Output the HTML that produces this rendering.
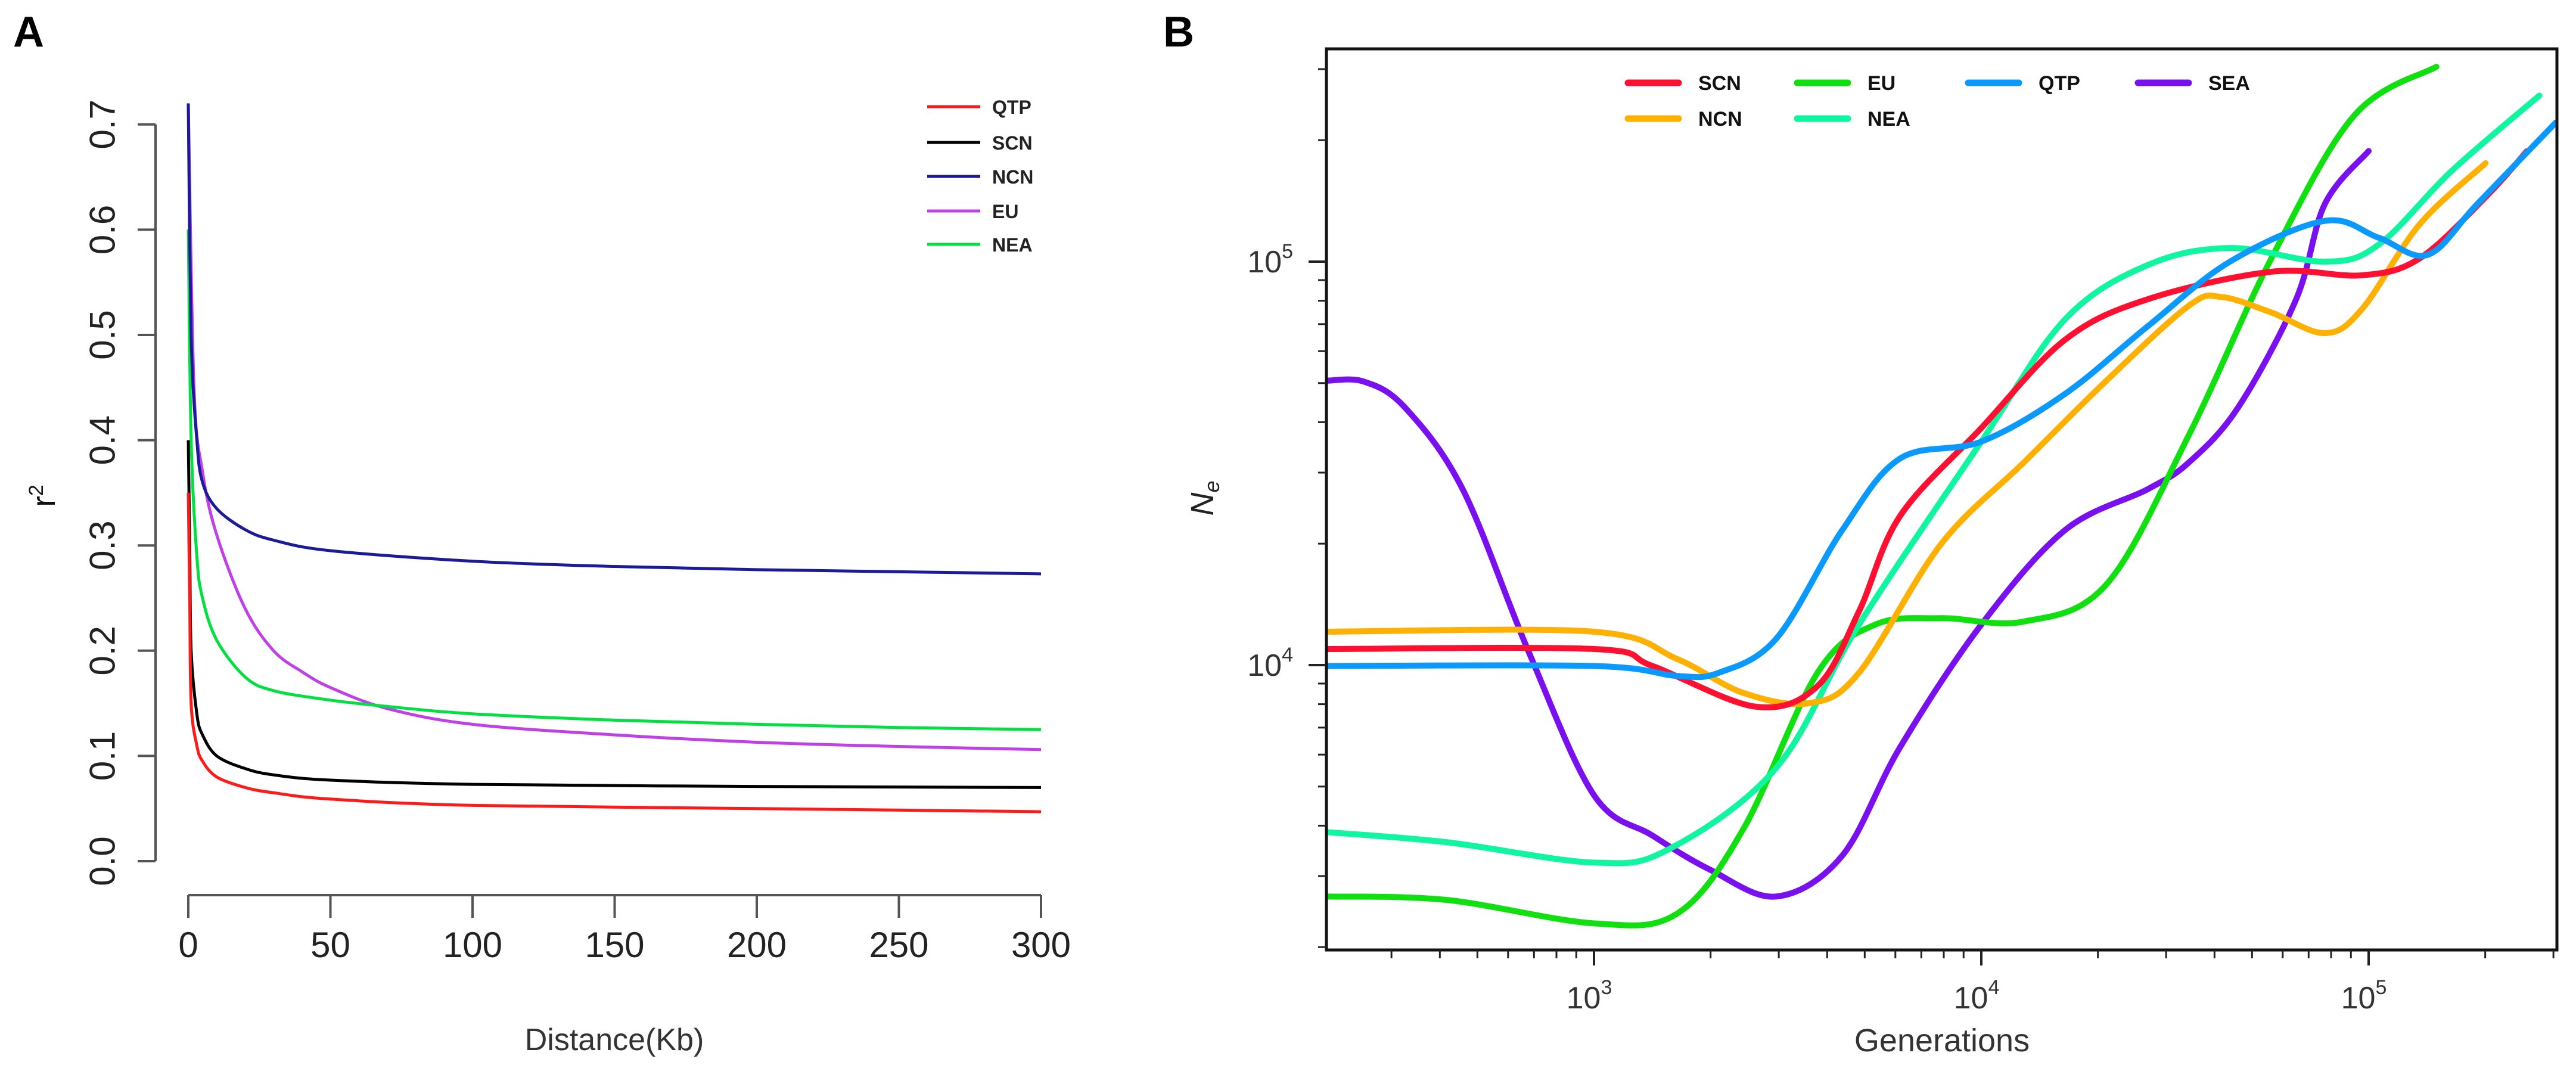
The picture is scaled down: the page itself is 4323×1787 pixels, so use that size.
<!DOCTYPE html>
<html><head><meta charset="utf-8"><style>
html,body{margin:0;padding:0;background:#fff;}
svg{display:block;font-family:"Liberation Sans",sans-serif;}
</style></head><body>
<svg id="fig" width="4323" height="1787" viewBox="0 0 4323 1787" xmlns="http://www.w3.org/2000/svg">
<rect width="4323" height="1787" fill="#fff"/>
<text x="22" y="78" font-size="72" font-weight="bold">A</text>
<text x="1952" y="78" font-size="72" font-weight="bold">B</text>
<g id="panelA"></g>
<g id="panelB"></g>
</svg>
<script>
// ---------- Panel A data ----------
const aSeries = ["QTP","SCN","NCN","EU","NEA"];
const aColors = ["#ff1a1a","#000000","#1a1a9a","#c040e8","#00e040"];
const aXTicks = [0,50,100,150,200,250,300];
const aYTicks = [0.0,0.1,0.2,0.3,0.4,0.5,0.6,0.7];
const distQTP = [0,0.5,1,3,5,10,20,30,50,100,200,300];
const ldQTP   = [0.35,0.25,0.15,0.11,0.095,0.08,0.07,0.065,0.059,0.053,0.05,0.047];
const distSCN = [0,0.5,1,3,5,10,20,30,50,100,200,300];
const ldSCN   = [0.40,0.30,0.20,0.14,0.12,0.10,0.088,0.082,0.077,0.073,0.071,0.070];
const distNCN = [0,1,3,5,10,20,30,50,100,150,200,250,300];
const ldNCN   = [0.72,0.50,0.40,0.36,0.335,0.315,0.305,0.295,0.285,0.28,0.277,0.275,0.273];
const distEU  = [0,2,5,10,20,30,40,50,70,100,150,200,250,300];
const ldEU    = [0.72,0.45,0.37,0.31,0.24,0.20,0.18,0.165,0.145,0.13,0.12,0.113,0.109,0.106];
const distNEA = [0,1,3,5,10,20,30,50,70,100,150,200,250,300];
const ldNEA   = [0.60,0.40,0.29,0.25,0.21,0.175,0.162,0.153,0.147,0.14,0.134,0.13,0.127,0.125];

// ---------- Panel B data ----------
const bSeries = ["SCN","EU","QTP","SEA","NCN","NEA"];
const bColors = ["#ff1030","#10e010","#0a9aff","#7a10f0","#ffb000","#10f5a0"];
const bXTicks = [1000,10000,100000];
const bYTicks = [10000,100000];
const genSCN = [204,1000,1416,2612,3776,4831,6166,10000,16444,26915,56104,96160,135500,200450,256450];
const neSCN  = [10960,10960,9950,7890,8870,13580,23400,38700,64000,80700,94400,92500,101900,144500,188000];
const genNCN = [204,1000,1641,2432,3597,4831,7889,12880,21040,34360,41780,56100,77090,96160,135500,200450];
const neNCN  = [12100,12100,10350,8530,8050,9570,20000,31800,50700,77800,81700,74800,66500,76300,123800,175400];
const genQTP = [204,1000,1641,2098,2958,4374,6166,10000,16444,26915,43850,77090,106200,142200,190800,304000];
const neQTP  = [9950,9950,9400,9570,11640,21600,32500,35800,47000,69200,100000,126200,114600,104000,139000,221000];
const genEU  = [204,416,1000,1641,2432,3776,5321,7889,12880,21040,34360,56100,91700,149600];
const neEU   = [2670,2618,2290,2423,3930,9570,12600,13070,12820,15850,37200,101900,230000,304000];
const genNEA = [204,416,1000,1563,2958,4831,10000,16444,26915,43850,77090,106200,164800,276000];
const neNEA  = [3855,3640,3240,3500,5570,12600,35800,71900,98100,108100,100000,110200,168700,258000];
const genSEA = [204,255,325,458,679,1000,1416,1995,2958,4374,6166,10000,16444,26915,34360,46030,65000,77090,100000];
const neSEA  = [50700,50400,43500,27300,10760,4760,3780,3110,2670,3370,6250,12600,21600,27300,31800,43500,80700,139000,188000];

const NS="http://www.w3.org/2000/svg";
function mk(parent,tag,attrs){const e=document.createElementNS(NS,tag);for(const k in attrs)e.setAttribute(k,attrs[k]);parent.appendChild(e);return e;}

// ---------- Panel A ----------
const A=document.getElementById('panelA');
const ax=v=>316+v*(1431/300);
const ay=v=>1445-v*1766;
const aAxisColor="#555";
let e;
e=mk(A,'line',{x1:261,y1:ay(0),x2:261,y2:ay(0.7),stroke:aAxisColor,'stroke-width':4});


aYTicks.forEach(t=>{
  const y=ay(t);
  e=mk(A,'line',{x1:231,y1:y,x2:261,y2:y,stroke:aAxisColor,'stroke-width':4});
  
  
  e=mk(A,'text',{x:172,y:y,'font-size':60,fill:'#222','text-anchor':'middle','dominant-baseline':'central',transform:`rotate(-90 172 ${y})`});
  e.textContent=t.toFixed(1);
  
  
});
e=mk(A,'line',{x1:ax(0),y1:1502,x2:ax(300),y2:1502,stroke:aAxisColor,'stroke-width':4});


aXTicks.forEach(t=>{
  const x=ax(t);
  e=mk(A,'line',{x1:x,y1:1502,x2:x,y2:1540,stroke:aAxisColor,'stroke-width':4});
  
  
  e=mk(A,'text',{x:x,y:1606,'font-size':60,fill:'#222','text-anchor':'middle'});
  e.textContent=t;
  
  
});
e=mk(A,'text',{x:1031,y:1762,'font-size':52,fill:'#333','text-anchor':'middle'});
e.textContent='Distance(Kb)';


e=mk(A,'text',{x:92,y:832,'font-size':56,fill:'#111','text-anchor':'middle',transform:'rotate(-90 92 832)'});
e.innerHTML='r<tspan font-size="34" dy="-20">2</tspan>';



const aData=[[distQTP,ldQTP],[distSCN,ldSCN],[distNCN,ldNCN],[distEU,ldEU],[distNEA,ldNEA]];
const aOrder=[3,4,2,1,0];
aOrder.forEach(i=>{
  const [xs,ys]=aData[i];
  const pts=xs.map((x,j)=>[ax(x),ay(ys[j])]);
  e=mk(A,'path',{d:smooth(pts),fill:'none',stroke:aColors[i],'stroke-width':5,'stroke-linejoin':'round'});
  
  
});
const aLegY=[179,239,296,354,410];
aSeries.forEach((s,i)=>{
  e=mk(A,'line',{x1:1556,y1:aLegY[i],x2:1645,y2:aLegY[i],stroke:aColors[i],'stroke-width':5});
  
  
  e=mk(A,'text',{x:1665,y:aLegY[i]+12,'font-size':32,'font-weight':'bold',fill:'#222'});
  e.textContent=s;
  
  
});

// ---------- Panel B ----------
const B=document.getElementById('panelB');
const L=2226,R=4291,T=82,Bt=1594;
const bx=g=>2675+(Math.log10(g)-3)*650;
const by=n=>439-(Math.log10(n)-5)*677;
const defs=mk(B,'defs',{});
const cp=mk(defs,'clipPath',{id:'bclip'});
mk(cp,'rect',{x:L,y:T,width:R-L,height:Bt-T});

const bData=[[genSCN,neSCN],[genEU,neEU],[genQTP,neQTP],[genSEA,neSEA],[genNCN,neNCN],[genNEA,neNEA]];
const bg=mk(B,'g',{'clip-path':'url(#bclip)'});


[3,1,5,4,0,2].forEach(i=>{
  const [gs,ns]=bData[i];
  const pts=gs.map((g,j)=>[bx(g),by(ns[j])]);
  e=mk(bg,'path',{d:smooth(pts),fill:'none',stroke:bColors[i],'stroke-width':10,'stroke-linecap':'round','stroke-linejoin':'round'});
  
  
});
e=mk(B,'rect',{x:L,y:T,width:R-L,height:Bt-T,fill:'none',stroke:'#111','stroke-width':5});



// x ticks (log)
for(let d=2;d<=5;d++){for(let m=1;m<=9;m++){
  const g=m*Math.pow(10,d);const x=bx(g);
  if(x<L+2||x>R-2)continue;
  const major=(m===1);
  e=mk(B,'line',{x1:x,y1:Bt,x2:x,y2:Bt+(major?26:14),stroke:'#222','stroke-width':major?4:3});
  
  
}}
bXTicks.forEach(g=>{
  const x=bx(g);
  e=mk(B,'text',{x:x-8,y:1692,'font-size':52,fill:'#333','text-anchor':'middle'});
  e.innerHTML='10<tspan font-size="34" dy="-24">'+Math.round(Math.log10(g))+'</tspan>';
  
  
});
// y ticks (log)
for(let d=3;d<=5;d++){for(let m=1;m<=9;m++){
  const n=m*Math.pow(10,d);const y=by(n);
  if(y<T+2||y>Bt-2)continue;
  const major=(m===1);
  e=mk(B,'line',{x1:L-(major?30:14),y1:y,x2:L,y2:y,stroke:'#222','stroke-width':major?4:3});
  
  
}}
bYTicks.forEach(n=>{
  const y=by(n);
  e=mk(B,'text',{x:2170,y:y+18,'font-size':52,fill:'#333','text-anchor':'end'});
  e.innerHTML='10<tspan font-size="34" dy="-24">'+Math.round(Math.log10(n))+'</tspan>';
  
  
});
e=mk(B,'text',{x:3259,y:1764,'font-size':54,fill:'#333','text-anchor':'middle'});
e.textContent='Generations';


e=mk(B,'text',{x:2036,y:836,'font-size':54,fill:'#222','font-style':'italic','text-anchor':'middle',transform:'rotate(-90 2036 836)'});
e.innerHTML='N<tspan font-size="36" dy="10">e</tspan>';



// legend B
const bLegX=[2732,3016,3303,3588,2732,3016];
const bLegY=[139,139,139,139,199,199];
bSeries.forEach((s,i)=>{
  e=mk(B,'line',{x1:bLegX[i],y1:bLegY[i],x2:bLegX[i]+85,y2:bLegY[i],stroke:bColors[i],'stroke-width':11,'stroke-linecap':'round'});
  
  
  e=mk(B,'text',{x:bLegX[i]+118,y:bLegY[i]+12,'font-size':34,'font-weight':'bold',fill:'#111'});
  e.textContent=s;
  
  
});

function smooth(p){
  if(p.length<3)return 'M'+p.map(q=>q.join(',')).join('L');
  let d='M'+p[0][0]+','+p[0][1];
  for(let i=0;i<p.length-1;i++){
    const p0=p[Math.max(i-1,0)],p1=p[i],p2=p[i+1],p3=p[Math.min(i+2,p.length-1)];
    const t=1/6;
    const c1=[p1[0]+(p2[0]-p0[0])*t,p1[1]+(p2[1]-p0[1])*t];
    const c2=[p2[0]-(p3[0]-p1[0])*t,p2[1]-(p3[1]-p1[1])*t];
    d+=`C${c1[0]},${c1[1]} ${c2[0]},${c2[1]} ${p2[0]},${p2[1]}`;
  }
  return d;
}
</script>
</body></html>
